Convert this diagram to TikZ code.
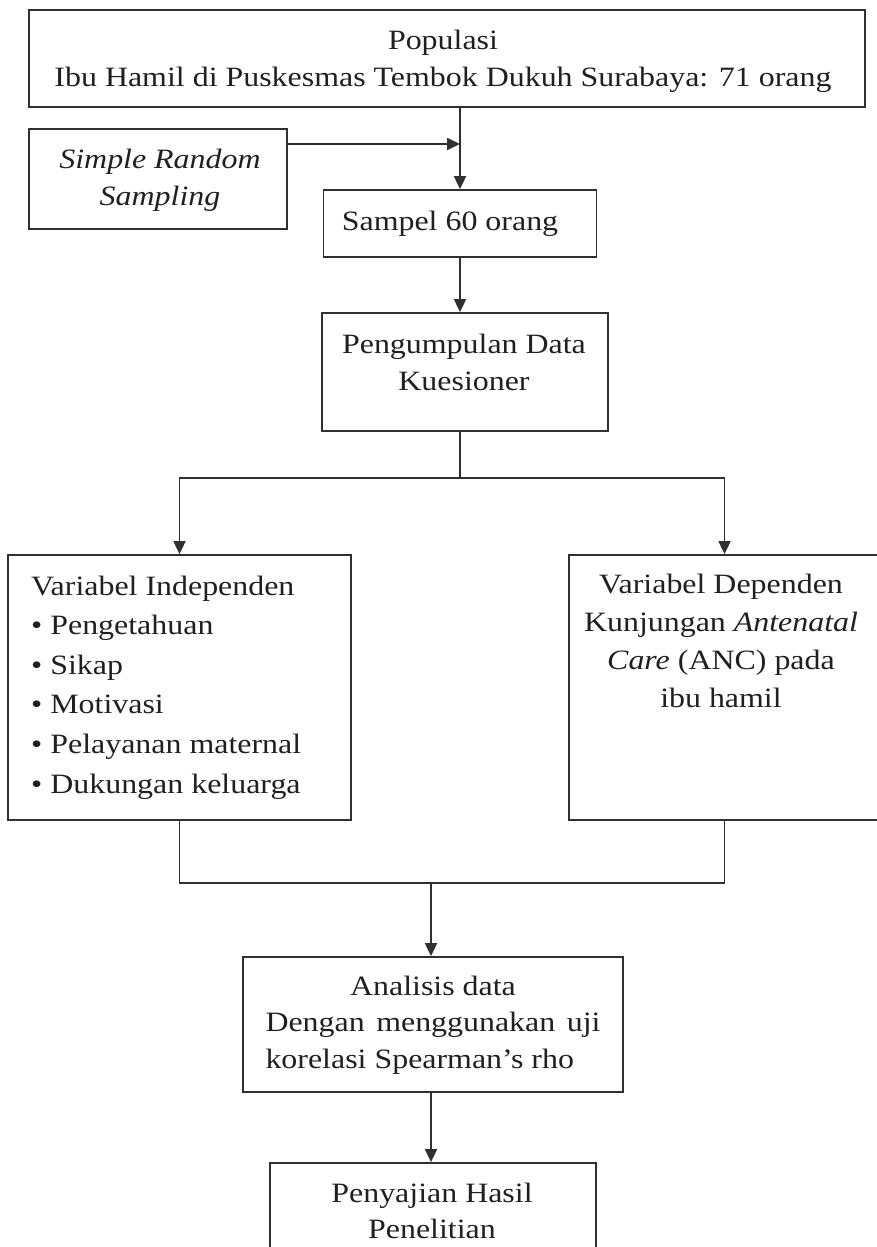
\documentclass[tikz,border=0pt]{standalone}
\usepackage{fontspec}
\setmainfont{Liberation Serif}[FakeStretch=1.14]
\usetikzlibrary{arrows.meta,calc}
\definecolor{linec}{HTML}{303030}
\definecolor{textc}{HTML}{202020}
\begin{document}
\begin{tikzpicture}[x=1pt,y=-1pt,
  box/.style={draw=linec, line width=1.8pt, inner sep=0pt},
  txt/.style={inner sep=0pt, text=textc, align=center, anchor=base},
  arr/.style={draw=linec, line width=1.8pt, -{Triangle[length=13pt,width=12pt]}},
  ln/.style={draw=linec, line width=1.8pt}]
\useasboundingbox (0,0) rectangle (877,1247);
\clip (0,0) rectangle (877,1247);
\fill[white] (0,0) rectangle (877,1247);

% boxes
\node[box, minimum width=836pt, minimum height=97pt] (pop) at (447,58.5) {};
\node[box, minimum width=258pt, minimum height=100pt] (srs) at (158,179) {};
\node[box, minimum width=273pt, minimum height=67pt] (sampel) at (460,223.5) {};
\node[box, minimum width=286pt, minimum height=118pt] (peng) at (465,372) {};
\node[box, minimum width=343pt, minimum height=265pt] (indep) at (179.5,687.5) {};
\node[box, minimum width=311pt, minimum height=265pt] (dep) at (724.5,687.5) {};
\node[box, minimum width=380pt, minimum height=135pt] (anal) at (433,1024.5) {};
\node[box, minimum width=326pt, minimum height=99pt] (peny) at (433,1212.5) {};

% texts (anchor base = baseline of the last line)
\node[txt, font=\fontsize{28}{36}\selectfont] (poptxt) at (443,86)
  {Populasi\\Ibu Hamil di Puskesmas Tembok Dukuh Surabaya: 71 orang};
\node[txt, font=\fontsize{28}{37}\selectfont] (srstxt) at (160,205)
  {\textit{Simple Random}\\\textit{Sampling}};
\node[txt, font=\fontsize{28}{36}\selectfont] (sampeltxt) at (450,230) {Sampel 60 orang};
\node[txt, font=\fontsize{28}{37}\selectfont] (pengtxt) at (464,390)
  {Pengumpulan Data\\Kuesioner};
\node[txt, align=left, anchor=base west, font=\fontsize{28}{39.6}\selectfont] (indeptxt) at (31,793)
  {Variabel Independen\\\textbullet\ Pengetahuan\\\textbullet\ Sikap\\\textbullet\ Motivasi\\\textbullet\ Pelayanan maternal\\\textbullet\ Dukungan keluarga};
\node[txt, font=\fontsize{28}{38}\selectfont] (deptxt) at (721,707)
  {Variabel Dependen\\Kunjungan \textit{Antenatal}\\\textit{Care} (ANC) pada\\ibu hamil};
\node[txt, font=\fontsize{28}{36.5}\selectfont] (analtxt) at (433,1068)
  {Analisis data\\\makebox[335pt][s]{Dengan menggunakan uji}\\\makebox[335pt][l]{korelasi Spearman’s rho}};
\node[txt, font=\fontsize{28}{36}\selectfont] (penytxt) at (432,1238)
  {Penyajian Hasil\\Penelitian};

% connectors
\coordinate (j1) at (460,144);
\coordinate (split) at (460,478);
\coordinate (merge) at (431,883);
\draw[arr] (sampel.north |- pop.south) -- (sampel.north);
\draw[arr] (srs.east |- j1) -- (j1);
\draw[arr] (sampel.south) -- (sampel.south |- peng.north);
\draw[ln] (split |- peng.south) -- (split);
\draw[arr] (split) -| (indep.north);
\draw[arr] (split) -| (dep.north);
\draw[ln] (indep.south) |- (dep.south |- merge) -- (dep.south);
\draw[arr] (merge) -- (merge |- anal.north);
\draw[arr] (merge |- anal.south) -- (merge |- peny.north);
\end{tikzpicture}
\end{document}
